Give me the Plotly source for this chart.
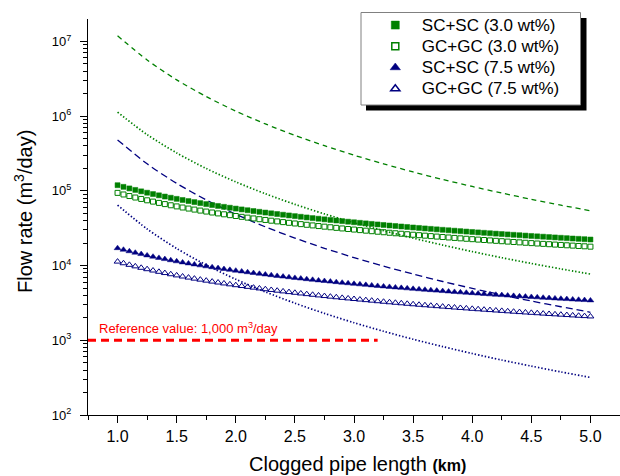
import plotly.graph_objects as go

# ---------------------------------------------------------------------------
# Data
# ---------------------------------------------------------------------------
# Clogged pipe length (km) for the point series
length_km = [
    1.00, 1.05, 1.10, 1.15, 1.20, 1.25, 1.30, 1.35, 1.40, 1.45,
    1.50, 1.55, 1.60, 1.65, 1.70, 1.75, 1.80, 1.85, 1.90, 1.95,
    2.00, 2.05, 2.10, 2.15, 2.20, 2.25, 2.30, 2.35, 2.40, 2.45,
    2.50, 2.55, 2.60, 2.65, 2.70, 2.75, 2.80, 2.85, 2.90, 2.95,
    3.00, 3.05, 3.10, 3.15, 3.20, 3.25, 3.30, 3.35, 3.40, 3.45,
    3.50, 3.55, 3.60, 3.65, 3.70, 3.75, 3.80, 3.85, 3.90, 3.95,
    4.00, 4.05, 4.10, 4.15, 4.20, 4.25, 4.30, 4.35, 4.40, 4.45,
    4.50, 4.55, 4.60, 4.65, 4.70, 4.75, 4.80, 4.85, 4.90, 4.95, 5.00,
]

# Flow rate (m3/day)
sc_sc_30 = [
    119000, 113100, 107800, 102900, 98470, 94380, 90610, 87120, 83890, 80890,
    78090, 75470, 73020, 70720, 68560, 66520, 64600, 62790, 61070, 59450,
    57900, 56430, 55040, 53710, 52440, 51230, 50070, 48960, 47900, 46880,
    45910, 44970, 44070, 43210, 42380, 41580, 40800, 40060, 39340, 38650,
    37980, 37330, 36700, 36100, 35510, 34940, 34390, 33860, 33340, 32840,
    32350, 31870, 31410, 30970, 30530, 30110, 29690, 29290, 28900, 28520,
    28150, 27790, 27440, 27090, 26760, 26430, 26110, 25800, 25490, 25190,
    24900, 24620, 24340, 24070, 23800, 23540, 23280, 23030, 22790, 22550, 22310,
]
gc_gc_30 = [
    94000, 89400, 85220, 81400, 77920, 74710, 71750, 69020, 66480, 64120,
    61920, 59870, 57940, 56140, 54440, 52830, 51320, 49900, 48540, 47260,
    46050, 44890, 43790, 42740, 41740, 40790, 39870, 39000, 38160, 37360,
    36590, 35850, 35140, 34460, 33800, 33170, 32560, 31970, 31400, 30860,
    30330, 29810, 29320, 28840, 28380, 27930, 27490, 27070, 26660, 26260,
    25870, 25500, 25130, 24780, 24430, 24100, 23770, 23450, 23140, 22840,
    22550, 22260, 21980, 21710, 21440, 21180, 20930, 20680, 20440, 20200,
    19970, 19740, 19520, 19310, 19090, 18890, 18680, 18490, 18290, 18100, 17910,
]
sc_sc_75 = [
    17100, 16290, 15550, 14870, 14250, 13680, 13150, 12670, 12210, 11790,
    11400, 11030, 10690, 10360, 10060, 9771, 9500, 9243, 9000, 8769,
    8550, 8341, 8143, 7953, 7773, 7600, 7435, 7277, 7125, 6980,
    6840, 6706, 6577, 6453, 6333, 6218, 6107, 6000, 5897, 5797,
    5700, 5607, 5516, 5429, 5344, 5262, 5182, 5104, 5029, 4957,
    4886, 4817, 4750, 4685, 4622, 4560, 4500, 4442, 4385, 4329,
    4275, 4222, 4171, 4120, 4071, 4024, 3977, 3931, 3886, 3843,
    3800, 3758, 3717, 3677, 3638, 3600, 3563, 3526, 3490, 3455, 3420,
]
gc_gc_75 = [
    11300, 10740, 10230, 9760, 9335, 8943, 8584, 8249, 7941, 7654,
    7386, 7137, 6903, 6684, 6478, 6283, 6101, 5928, 5764, 5609,
    5462, 5322, 5189, 5063, 4942, 4826, 4716, 4611, 4510, 4414,
    4321, 4232, 4147, 4064, 3985, 3909, 3836, 3766, 3697, 3632,
    3568, 3507, 3447, 3390, 3334, 3280, 3228, 3177, 3128, 3081,
    3034, 2989, 2946, 2903, 2862, 2822, 2783, 2745, 2708, 2672,
    2637, 2603, 2569, 2537, 2505, 2474, 2444, 2414, 2385, 2357,
    2330, 2303, 2276, 2251, 2226, 2201, 2177, 2153, 2130, 2107, 2085,
]

# Curves (flow rate, m3/day) at 0.25 km steps
curve_km = [1.00, 1.25, 1.50, 1.75, 2.00, 2.25, 2.50, 2.75, 3.00,
            3.25, 3.50, 3.75, 4.00, 4.25, 4.50, 4.75, 5.00]
curve_30_dash = [1.19e7, 5.64e6, 3.06e6, 1.83e6, 1.167e6, 7.87e5, 5.53e5, 4.02e5, 3.00e5,
                 2.30e5, 1.79e5, 1.42e5, 1.144e5, 9.34e4, 7.71e4, 6.43e4, 5.42e4]
curve_30_dot = [1.13e6, 5.66e5, 3.22e5, 1.99e5, 1.318e5, 9.15e4, 6.60e4, 4.91e4, 3.75e4,
                2.93e4, 2.33e4, 1.88e4, 1.54e4, 1.274e4, 1.067e4, 9.02e3, 7.70e3]
curve_75_dash = [4.80e5, 2.30e5, 1.259e5, 7.57e4, 4.87e4, 3.30e4, 2.333e4, 1.704e4, 1.279e4,
                 9.82e3, 7.69e3, 6.12e3, 4.95e3, 4.05e3, 3.35e3, 2.81e3, 2.37e3]
curve_75_dot = [6.45e4, 3.09e4, 1.692e4, 1.018e4, 6.55e3, 4.44e3, 3.14e3, 2.29e3, 1.72e3,
                1.319e3, 1.033e3, 823, 665, 544, 451, 377, 318]

# Reference flow rate and the span it is drawn over
ref_value = 1000
ref_km = [0.75, 3.2]

x_ticks = [1.0, 1.5, 2.0, 2.5, 3.0, 3.5, 4.0, 4.5, 5.0]
x_ticktext = ["1.0", "1.5", "2.0", "2.5", "3.0", "3.5", "4.0", "4.5", "5.0"]
y_ticks = [1e2, 1e3, 1e4, 1e5, 1e6, 1e7]
y_ticktext = ["10<sup>2</sup>", "10<sup>3</sup>", "10<sup>4</sup>",
              "10<sup>5</sup>", "10<sup>6</sup>", "10<sup>7</sup>"]

series_names = ["SC+SC (3.0 wt%)", "GC+GC (3.0 wt%)", "SC+SC (7.5 wt%)", "GC+GC (7.5 wt%)"]

# ---------------------------------------------------------------------------
# Style
# ---------------------------------------------------------------------------
GREEN = "#008000"
NAVY = "#000080"
RED = "#ff0000"
FONT = "Liberation Sans, Arial, sans-serif"

W, H = 620, 476
M_L, M_R, M_T, M_B = 88, 0, 19, 61
PW = W - M_L - M_R
PH = H - M_T - M_B


def px(xpix):
    """Pixel column -> paper x."""
    return (xpix - M_L) / PW


def py(ypix):
    """Pixel row -> paper y."""
    return (H - M_B - ypix) / PH


fig = go.Figure()

# Curves
curve_styles = [
    (curve_30_dash, GREEN, "5px,4px", 1.3, "3.0 wt% dashed"),
    (curve_30_dot, GREEN, "1.4px,2px", 1.7, "3.0 wt% dotted"),
    (curve_75_dash, NAVY, "7px,4px", 1.3, "7.5 wt% dashed"),
    (curve_75_dot, NAVY, "1.4px,2px", 1.7, "7.5 wt% dotted"),
]
for values, color, dash, width, name in curve_styles:
    fig.add_trace(go.Scatter(
        x=curve_km, y=values, mode="lines", name=name, showlegend=False,
        line=dict(color=color, dash=dash, width=width, shape="spline", smoothing=0.8),
    ))

# Reference line
fig.add_trace(go.Scatter(
    x=ref_km, y=[ref_value, ref_value], mode="lines", showlegend=False,
    name="Reference value", line=dict(color=RED, width=3, dash="8px,5px"),
))

# Point series
point_styles = [
    (sc_sc_30, "square", GREEN, 5, 0.5),
    (gc_gc_30, "square-open", GREEN, 5, 1.0),
    (sc_sc_75, "triangle-up", NAVY, 6, 0.5),
    (gc_gc_75, "triangle-up-open", NAVY, 6, 1.0),
]
for (values, symbol, color, size, lw), name in zip(point_styles, series_names):
    fig.add_trace(go.Scatter(
        x=length_km, y=values, mode="markers", name=name, showlegend=False,
        marker=dict(symbol=symbol, size=size, color=color, line=dict(color=color, width=lw)),
    ))

# Legend entries (larger symbols than in the plot)
legend_styles = [
    ("square", GREEN, 8, 0.5),
    ("square-open", GREEN, 7, 1.5),
    ("triangle-up", NAVY, 9, 0.5),
    ("triangle-up-open", NAVY, 8, 1.5),
]
for (symbol, color, size, lw), name in zip(legend_styles, series_names):
    fig.add_trace(go.Scatter(
        x=[None], y=[None], mode="markers",
        name=f'<span style="font-size:17px">{name}</span>',
        marker=dict(symbol=symbol, size=size, color=color, line=dict(color=color, width=lw)),
    ))

# Legend frame with drop shadow
fig.add_shape(type="rect", xref="paper", yref="paper",
              x0=px(366), x1=px(586.5), y0=py(110.5), y1=py(18),
              fillcolor="black", line=dict(width=0), layer="above")
fig.add_shape(type="rect", xref="paper", yref="paper",
              x0=px(361), x1=px(580.5), y0=py(105), y1=py(12.5),
              fillcolor="white", line=dict(color="#808080", width=1), layer="above")

# Reference label
fig.add_annotation(
    text="Reference value: 1,000 m<sup>3</sup>/day",
    xref="paper", yref="paper", x=px(97), y=py(328),
    xanchor="left", yanchor="middle", showarrow=False,
    font=dict(family=FONT, size=13, color=RED),
)

# Axis titles
fig.add_annotation(
    text='Clogged pipe length <b><span style="font-size:16px">(km)</span></b>',
    xref="paper", yref="paper", x=px(357), y=py(464),
    xanchor="center", yanchor="middle", showarrow=False,
    font=dict(family=FONT, size=20, color="black"),
)
fig.add_annotation(
    text="Flow rate (m<sup>3</sup>/day)",
    xref="paper", yref="paper", x=px(23), y=py(212),
    xanchor="center", yanchor="middle", showarrow=False, textangle=-90,
    font=dict(family=FONT, size=20, color="black"),
)

y_minor = [k * 10 ** d for d in range(2, 7) for k in range(2, 10)]

fig.update_layout(
    width=W, height=H, autosize=False,
    margin=dict(l=M_L, r=M_R, t=M_T, b=M_B, pad=0),
    paper_bgcolor="white", plot_bgcolor="white",
    font=dict(family=FONT, color="black"),
    showlegend=True,
    legend=dict(
        x=px(368.8), y=py(9.5), xanchor="left", yanchor="top",
        bgcolor="rgba(0,0,0,0)", borderwidth=0, itemwidth=43,
        font=dict(family=FONT, size=14, color="black"),
        tracegroupgap=0,
    ),
    xaxis=dict(
        range=[0.75, 5.25], showgrid=False, zeroline=False,
        showline=True, linecolor="black", linewidth=1.3,
        tickmode="array", tickvals=x_ticks, ticktext=x_ticktext,
        ticks="outside", ticklen=7, tickwidth=1.3, tickcolor="black",
        tickfont=dict(family=FONT, size=16, color="black"),
        minor=dict(dtick=0.25, tick0=0.75, ticks="outside", ticklen=4,
                   tickwidth=1.2, tickcolor="black", showgrid=False),
    ),
    yaxis=dict(
        type="log", range=[2, 7.3], showgrid=False, zeroline=False,
        showline=True, linecolor="black", linewidth=1.3,
        tickmode="array", tickvals=y_ticks, ticktext=y_ticktext,
        ticks="outside", ticklen=7, tickwidth=1.3, tickcolor="black",
        ticklabelstandoff=6,
        tickfont=dict(family=FONT, size=13, color="black"),
        minor=dict(tickmode="array", tickvals=y_minor, ticks="outside", ticklen=4,
                   tickwidth=1.0, tickcolor="black", showgrid=False),
    ),
)

fig.write_html("out.html", config={"displayModeBar": False})
